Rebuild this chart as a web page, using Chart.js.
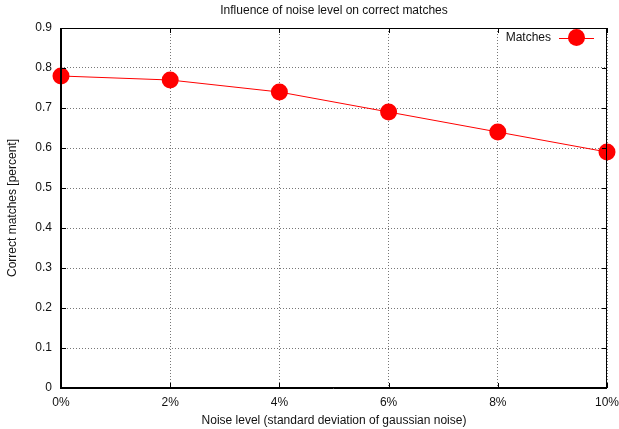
<!DOCTYPE html>
<html>
<head>
<meta charset="utf-8">
<style>
  html, body { margin: 0; padding: 0; background: #fff; }
  #wrap { width: 619px; height: 429px; position: relative; }
</style>
<script src="https://cdn.jsdelivr.net/npm/chart.js@4/dist/chart.umd.min.js"></script>
</head>
<body>
<div id="wrap"><canvas id="c" width="619" height="429"></canvas></div>
<script>
// Noise levels and the share of correct matches at each level
const noiseLevels = ['0%', '2%', '4%', '6%', '8%', '10%'];
const correctMatches = [0.78, 0.77, 0.74, 0.69, 0.64, 0.59];
const yTicks = [0, 0.1, 0.2, 0.3, 0.4, 0.5, 0.6, 0.7, 0.8, 0.9];
const chartTitle = 'Influence of noise level on correct matches';

const FONT = 'Liberation Sans, Arial, Helvetica, sans-serif';
const TEXT = '#111';

// Frame with inward tick marks on all four sides, title over the plot, and the key
const framePlugin = {
  id: 'frame',
  afterDatasetsDraw(chart) {
    const { ctx, chartArea: a, scales } = chart;
    ctx.save();
    ctx.strokeStyle = '#000';
    ctx.lineWidth = 1;
    ctx.strokeRect(a.left + 0.5, a.top + 0.5, a.right - a.left - 1, a.bottom - a.top - 1);
    // slightly heavier left and bottom axes
    ctx.beginPath();
    ctx.moveTo(a.left - 0.5, a.top); ctx.lineTo(a.left - 0.5, a.bottom + 1);
    ctx.moveTo(a.left - 1, a.bottom + 0.5); ctx.lineTo(a.right, a.bottom + 0.5);
    ctx.stroke();
    const t = 5;
    ctx.beginPath();
    yTicks.forEach(v => {
      const y = Math.round(scales.y.getPixelForValue(v)) + 0.5;
      ctx.moveTo(a.left, y); ctx.lineTo(a.left + t, y);
      ctx.moveTo(a.right, y); ctx.lineTo(a.right - t, y);
    });
    noiseLevels.forEach((_, i) => {
      const x = Math.round(scales.x.getPixelForValue(i)) + 0.5;
      ctx.moveTo(x, a.bottom); ctx.lineTo(x, a.bottom - t);
      ctx.moveTo(x, a.top); ctx.lineTo(x, a.top + t);
    });
    ctx.stroke();

    // title centred over the plotting area
    ctx.fillStyle = TEXT;
    ctx.font = '12px ' + FONT;
    ctx.textAlign = 'center';
    ctx.textBaseline = 'middle';
    ctx.fillText(chartTitle, (a.left + a.right) / 2, 11);

    // key: label, line sample, marker
    const ds = chart.data.datasets[0];
    const ky = a.top + 9.5;
    const sx0 = a.right - 48, sx1 = a.right - 13;
    ctx.textAlign = 'right';
    ctx.fillText(ds.label, sx0 - 8, ky);
    ctx.strokeStyle = ds.borderColor;
    ctx.beginPath();
    ctx.moveTo(sx0, Math.round(ky) + 0.5); ctx.lineTo(sx1, Math.round(ky) + 0.5);
    ctx.stroke();
    ctx.fillStyle = ds.pointBackgroundColor;
    ctx.beginPath();
    ctx.arc((sx0 + sx1) / 2, ky, ds.pointRadius, 0, Math.PI * 2);
    ctx.fill();
    ctx.restore();
  }
};

new Chart(document.getElementById('c'), {
  type: 'line',
  data: {
    labels: noiseLevels,
    datasets: [{
      label: 'Matches',
      data: correctMatches,
      borderColor: '#ff0000',
      backgroundColor: '#ff0000',
      pointBackgroundColor: '#ff0000',
      pointBorderWidth: 0,
      borderWidth: 1,
      pointRadius: 8.5,
      tension: 0,
      clip: false
    }]
  },
  options: {
    responsive: false,
    animation: false,
    devicePixelRatio: 1,
    layout: { padding: { left: 0, right: 12, top: 28, bottom: 0 } },
    plugins: {
      legend: { display: false },
      tooltip: { enabled: false },
      title: { display: false }
    },
    scales: {
      x: {
        type: 'category',
        offset: false,
        grid: {
          color: '#777',
          drawTicks: false
        },
        border: { display: false, dash: [1, 2] },
        ticks: {
          color: TEXT,
          font: { family: FONT, size: 12 },
          padding: 7,
          maxRotation: 0,
          autoSkip: false
        },
        title: {
          display: true,
          text: 'Noise level (standard deviation of gaussian noise)',
          color: TEXT,
          font: { family: FONT, size: 12 },
          padding: { top: 0, bottom: 1.5 }
        },
        afterFit(s) {
          s.height = 41;
          s.paddingLeft = 0;
          s.paddingRight = 0;
        }
      },
      y: {
        min: 0,
        max: 0.9,
        grid: {
          color: '#777',
          drawTicks: false
        },
        border: { display: false, dash: [1, 2] },
        afterBuildTicks(s) { s.ticks = yTicks.map(v => ({ value: v })); },
        ticks: {
          color: TEXT,
          font: { family: FONT, size: 12 },
          padding: 9,
          callback: v => String(Math.round(v * 10) / 10)
        },
        title: {
          display: true,
          text: 'Correct matches [percent]',
          color: TEXT,
          font: { family: FONT, size: 12 },
          padding: { top: 5, bottom: 5 }
        },
        afterFit(s) {
          s.width = 61;
          s.paddingTop = 0;
          s.paddingBottom = 0;
        }
      }
    }
  },
  plugins: [framePlugin]
});
</script>
</body>
</html>
